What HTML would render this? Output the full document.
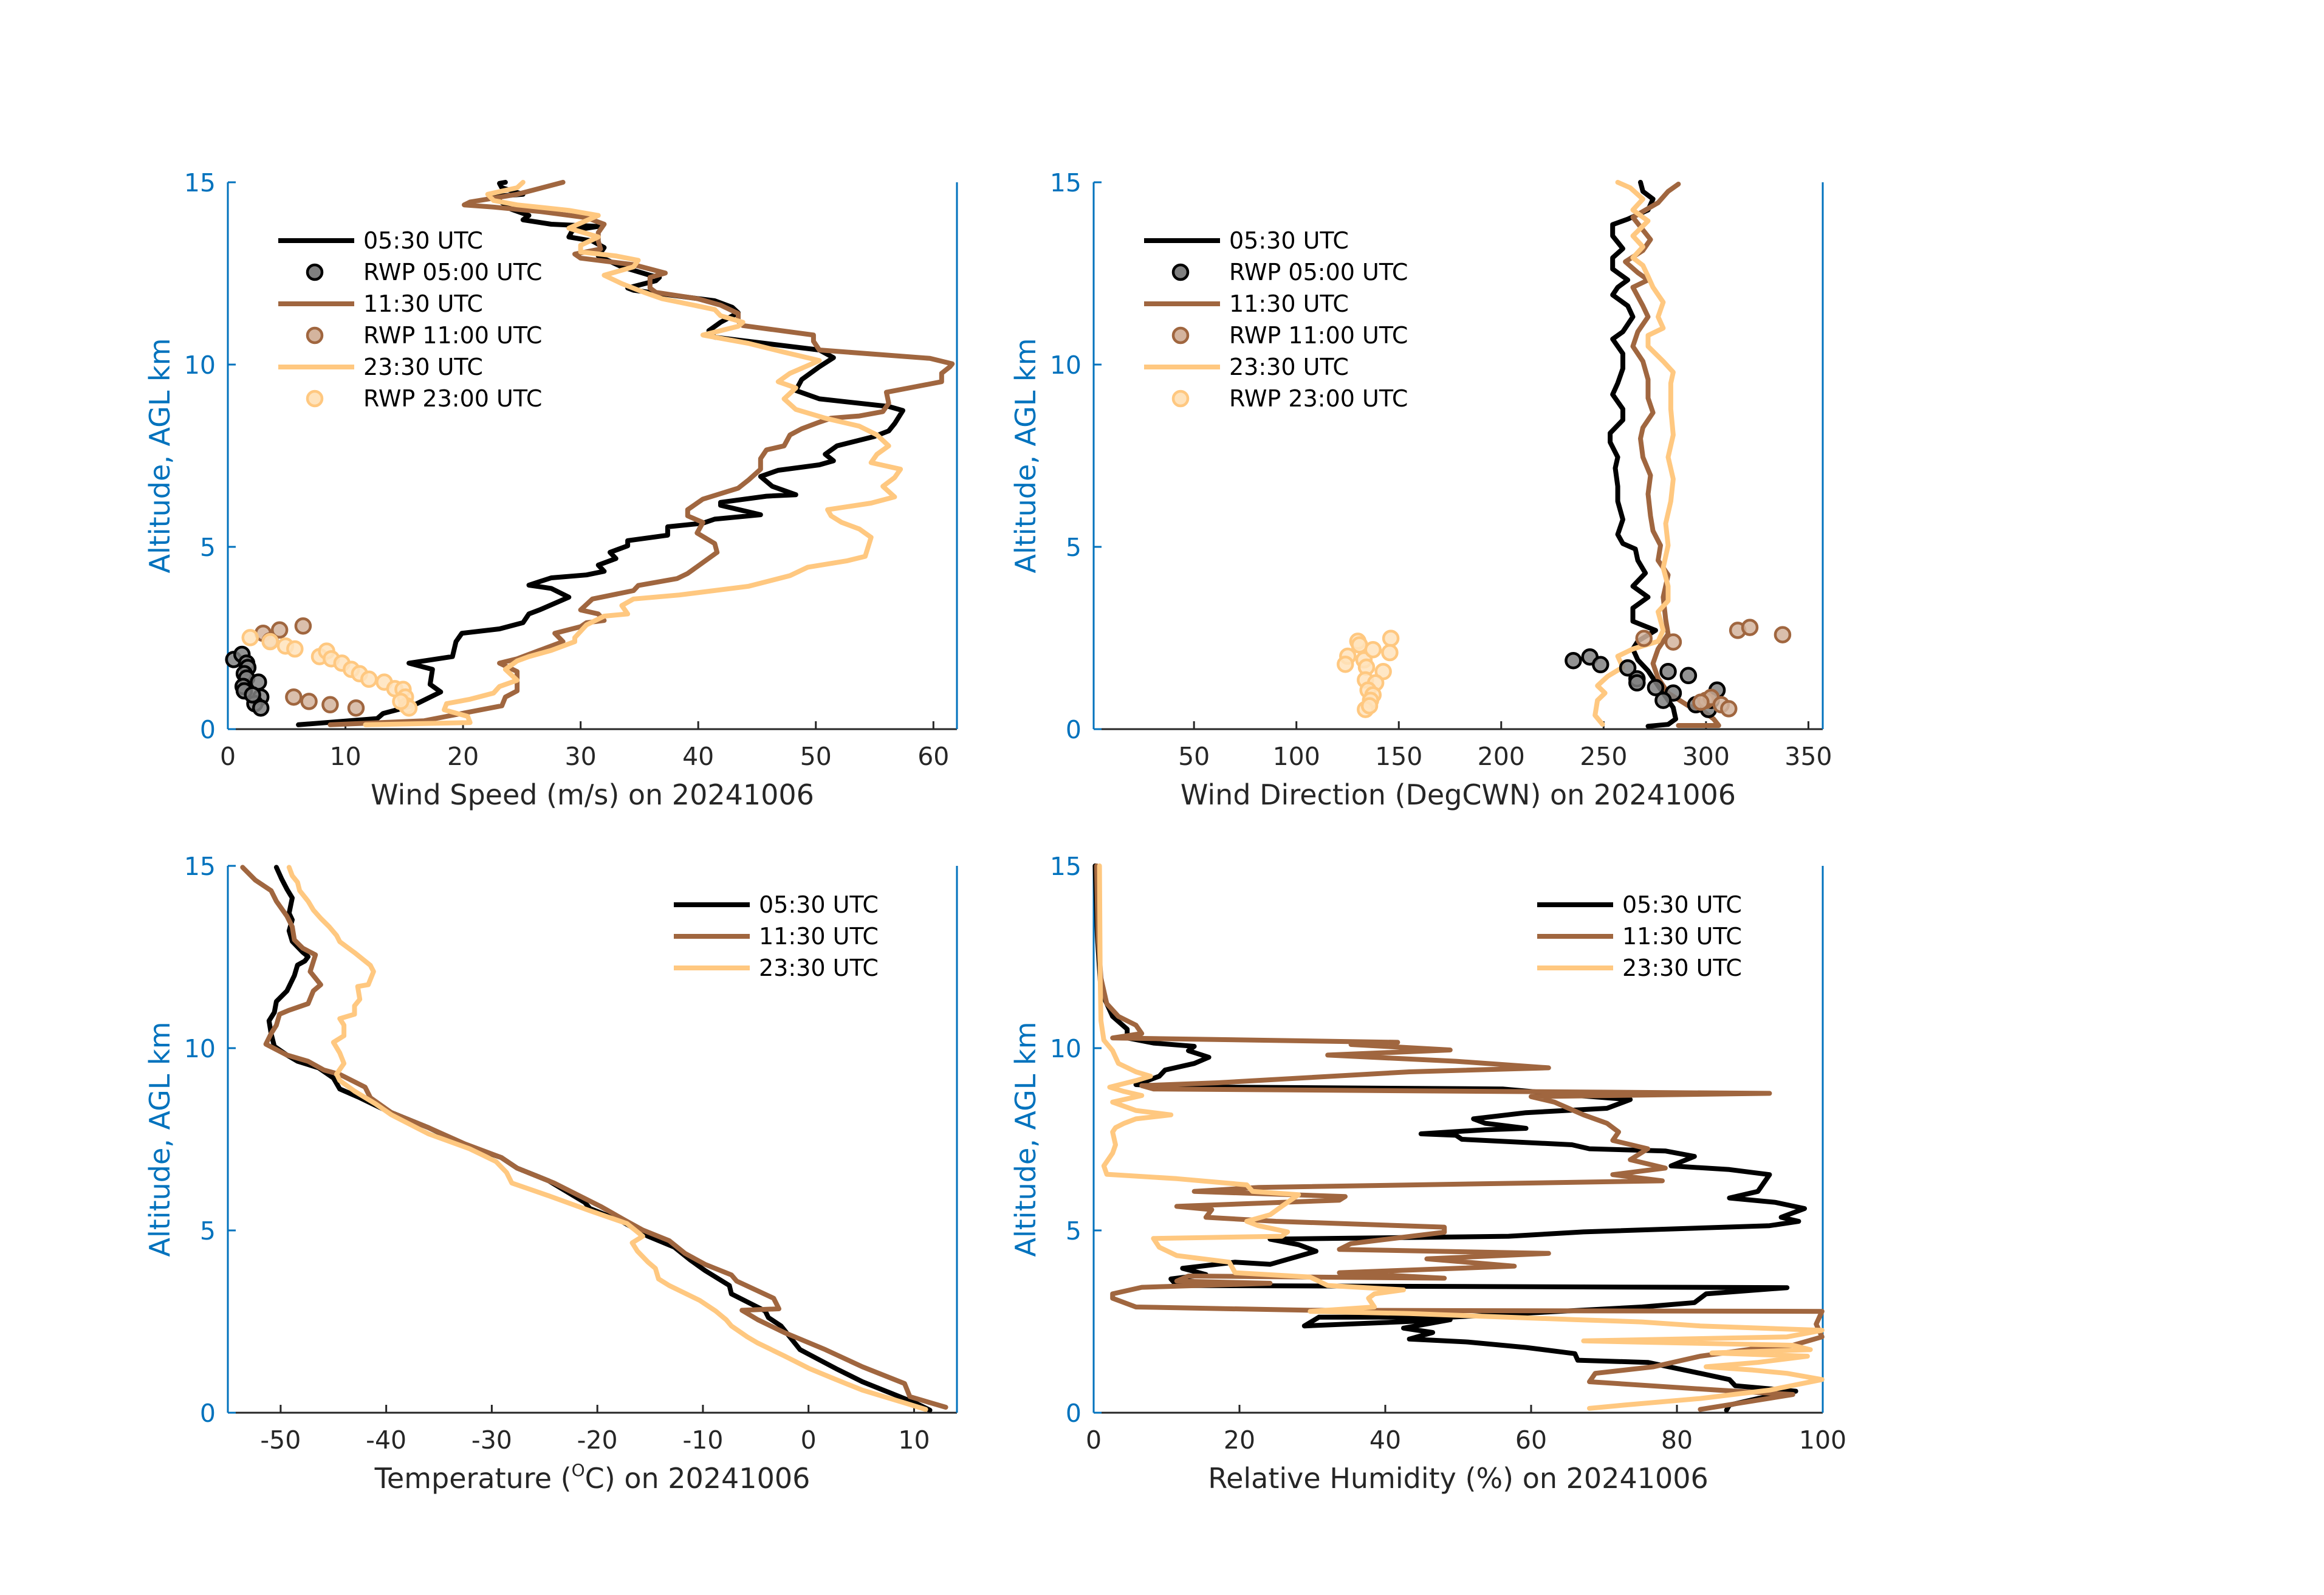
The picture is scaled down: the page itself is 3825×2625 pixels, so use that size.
<!DOCTYPE html>
<html><head><meta charset="utf-8"><title>Soundings 20241006</title>
<style>
html,body{margin:0;padding:0;background:#fff;}
svg{display:block;font-family:"DejaVu Sans","Liberation Sans",sans-serif;}
</style></head>
<body>
<svg id="fig" width="3825" height="2625" viewBox="0 0 3825 2625" xmlns="http://www.w3.org/2000/svg">
<rect width="3825" height="2625" fill="#fff"/>
</svg>
<script>
// ---------- Data (altitude km, values) ----------
// Wind speed (m/s)
const ws0530Alt=[0.12,0.29,0.43,0.64,1.02,1.23,1.64,1.81,1.99,2.40,2.63,2.75,2.92,3.16,3.27,3.62,3.86,3.95,4.15,4.23,4.33,4.50,4.68,4.85,5.03,5.17,5.32,5.55,5.65,5.76,5.88,6.14,6.22,6.39,6.43,6.66,6.93,7.10,7.25,7.36,7.54,7.77,8.03,8.18,8.38,8.74,8.85,9.06,9.29,9.59,9.94,10.19,10.40,10.75,10.93,11.16,11.42,11.57,11.75,12.04,12.10,12.30,12.39,12.45,12.68,12.98,13.21,13.39,13.50,13.68,13.79,13.85,13.97,14.09,14.26,14.61,14.67,14.85,14.97,15.0];
const ws0530Val=[6.0,12.7,13.2,15.7,18.1,17.2,17.4,15.4,19.1,19.4,19.9,23.1,25.1,25.6,26.5,29.0,27.5,25.6,27.5,30.5,32.0,31.5,33.0,32.5,34.0,34.0,37.4,37.4,40.4,41.4,45.3,41.9,41.9,45.8,48.3,46.3,45.3,46.8,50.3,51.5,50.8,51.8,55.0,56.2,56.7,57.4,56.2,50.3,48.3,48.8,50.3,51.5,50.3,41.4,40.9,41.9,43.4,42.9,41.4,34.5,34.0,36.4,36.7,35.9,33.5,31.5,32.0,31.0,29.0,29.3,31.5,27.5,25.1,25.6,24.1,22.6,25.1,23.3,23.1,23.6];
const ws1130Alt=[0.12,0.23,0.35,0.64,0.88,1.05,1.58,1.81,1.93,2.16,2.40,2.63,2.81,2.92,2.98,3.16,3.27,3.57,3.80,3.94,4.13,4.27,4.85,5.09,5.38,5.67,5.85,6.02,6.31,6.61,6.84,7.13,7.42,7.66,7.77,8.07,8.24,8.42,8.53,8.59,8.71,8.94,9.24,9.53,9.76,9.94,10.02,10.17,10.40,10.64,10.81,11.07,11.19,11.40,11.63,11.81,11.98,12.10,12.39,12.51,12.74,12.92,13.03,13.17,13.39,13.62,13.85,14.03,14.20,14.32,14.38,14.46,14.67,15.0];
const ws1130Val=[8.7,16.7,18.6,23.3,23.6,24.6,24.6,23.1,24.6,26.5,28.5,27.8,30.0,30.5,32.0,31.5,30.0,31.0,34.5,34.9,38.2,39.1,41.6,41.4,39.9,40.4,39.1,39.1,40.4,43.4,44.3,45.3,45.3,45.8,47.3,47.8,48.8,50.3,51.3,53.7,55.7,56.2,56.0,60.7,60.7,61.4,61.6,59.7,50.3,49.8,49.8,43.8,43.4,43.4,41.9,39.9,36.4,35.9,35.9,37.2,34.5,30.0,29.5,31.7,31.5,31.5,32.0,30.5,26.5,22.6,20.1,20.6,24.6,28.5];
const ws2330Alt=[0.12,0.18,0.35,0.53,0.70,0.82,0.99,1.17,1.34,1.64,1.87,1.99,2.16,2.40,2.51,2.86,3.10,3.16,3.39,3.57,3.68,3.92,4.21,4.44,4.62,4.74,5.26,5.49,5.67,5.85,6.02,6.20,6.37,6.66,6.90,7.13,7.31,7.54,7.77,8.07,8.31,8.53,8.77,9.06,9.36,9.53,9.76,10.11,10.34,10.58,10.81,11.05,11.16,11.34,11.51,11.81,11.98,12.22,12.45,12.68,12.86,12.98,13.09,13.27,13.50,13.74,14.09,14.23,14.38,14.50,14.67,14.85,15.0];
const ws2330Val=[11.7,20.6,20.4,18.4,18.6,20.6,22.6,23.1,24.6,23.6,24.6,25.6,27.5,29.5,29.5,30.5,32.0,34.0,33.5,34.5,38.4,44.3,47.8,49.3,52.7,54.2,54.7,53.7,52.2,51.3,51.0,54.7,56.7,55.7,56.7,57.2,54.7,55.2,56.2,55.2,53.7,50.8,48.3,47.3,48.3,46.8,47.8,50.3,47.3,44.3,40.4,43.4,43.8,41.9,41.4,36.9,35.4,33.5,32.0,34.5,34.9,33.0,30.0,30.0,31.5,29.0,31.5,29.0,24.6,22.6,22.1,24.6,25.1];
// RWP wind speed
const rwpWs0500Alt=[1.91,2.05,1.81,1.69,1.52,1.40,1.17,1.05,1.29,0.88,0.70,0.58,0.94];
const rwpWs0500Val=[0.5,1.2,1.6,1.7,1.4,1.6,1.3,1.4,2.6,2.8,2.3,2.8,2.1];
const rwpWs1100Alt=[2.63,2.72,2.83,2.42,0.88,0.76,0.67,0.58];
const rwpWs1100Val=[3.0,4.4,6.4,3.6,5.6,6.9,8.7,10.9];
const rwpWs2300Alt=[2.51,2.40,2.28,2.20,1.99,2.14,1.93,1.81,1.64,1.52,1.37,1.29,1.11,1.09,0.88,0.64,0.58,0.76];
const rwpWs2300Val=[1.9,3.6,4.9,5.7,7.8,8.4,8.8,9.7,10.5,11.2,12.0,13.3,14.2,14.9,15.1,15.2,15.4,14.7];
// Wind direction (deg)
const wd0530Alt=[0.08,0.13,0.28,0.59,0.89,1.19,1.60,1.90,2.20,2.41,2.71,2.96,3.32,3.62,3.92,4.28,4.63,4.94,5.09,5.34,5.75,6.25,6.66,7.16,7.46,7.87,8.12,8.48,8.78,9.18,9.49,9.89,10.30,10.70,10.90,11.31,11.61,11.91,12.12,12.32,12.62,12.93,13.18,13.53,13.84,13.99,14.24,14.54,14.75,15.0];
const wd0530Val=[271.7,281.5,285.2,284,280.3,276.6,271.7,266.7,264.3,266.7,275.4,264.3,264.3,271.7,264.3,270.4,266.7,265.5,259.4,256.9,259.4,256.9,256.9,255.7,256.9,253.2,253.2,259.4,259.4,254.4,256.9,259.4,259.4,254.4,259.4,264.3,261.8,254.4,256.9,261.8,254.4,254.4,259.4,254.4,254.4,261.8,271.7,274.1,269.2,268];
const wd1130Alt=[0.10,0.10,0.28,0.49,0.64,0.99,1.40,1.80,2.20,2.61,3.01,3.62,4.23,4.63,5.04,5.44,5.85,6.45,6.96,7.46,7.97,8.27,8.68,9.08,9.59,10.09,10.50,10.90,11.31,11.61,12.12,12.32,12.52,12.82,13.13,13.43,14.04,14.44,14.75,14.95];
const wd1130Val=[286.5,306.2,303.7,298.8,291.4,281.5,276.6,274.1,276.6,281.5,280.3,279.1,281.5,276.6,277.8,274.1,272.9,271.7,272.9,269.2,268.0,269.2,274.1,271.7,271.7,269.2,264.3,266.7,271.7,269.2,264.3,271.7,266.7,260.6,269.2,272.9,264.3,276.6,281.5,286.5];
const wd2330Alt=[0.13,0.38,0.79,0.99,1.19,1.45,1.70,2.00,2.20,2.41,2.71,3.22,3.52,3.92,4.43,5.04,5.64,6.25,6.86,7.46,8.07,8.78,9.49,9.79,10.09,10.50,10.80,11.00,11.31,11.71,12.12,12.42,12.72,12.93,13.23,13.53,13.94,14.24,14.54,14.85,15.0];
const wd2330Val=[249.5,245.8,247,250.7,247,252,259.4,256.9,264.3,276.6,279.1,276.6,281.5,281.5,279.1,281.5,280.3,282.8,284,281.5,284,282.8,282.8,284,279.1,271.7,271.7,279.1,276.6,279.1,274.1,271.7,269.2,264.3,269.2,264.3,271.7,264.3,269.2,263,256.9];
// RWP wind direction
const rwpWd0500Alt=[1.88,1.98,1.77,1.68,1.38,1.27,1.14,1.58,1.47,0.99,0.79,0.67,0.54,1.07,0.79];
const rwpWd0500Val=[235.2,243.3,248.5,261.8,266.3,266.3,275.4,281.5,291.4,284,279.1,295,301.2,305.4,302.5];
const rwpWd1100Alt=[2.49,2.39,2.71,2.79,2.59,0.79,0.87,0.67,0.56,0.74];
const rwpWd1100Val=[269.7,284,315.5,321.4,337.4,300,302.5,307.4,311.1,297.5];
const rwpWd2300Alt=[2.41,2.31,2.00,1.78,1.90,2.18,2.49,2.10,1.70,1.58,1.35,1.27,1.07,0.94,0.79,0.54,0.64];
const rwpWd2300Val=[130,130.8,125.1,123.9,133,137.4,146.1,145.6,134.2,142.4,133.7,138.7,135,137.4,136.2,133.7,135.7];
// Temperature (deg C)
const t0530Alt=[0.07,0.27,0.56,0.85,1.21,1.44,1.73,1.91,2.38,2.61,2.79,3.26,3.49,3.90,4.19,4.54,4.84,5.25,5.60,5.77,6.36,6.71,7.00,7.35,7.82,8.29,8.64,8.88,9.18,9.46,9.64,9.81,10.05,10.40,10.75,10.98,11.28,11.57,11.99,12.28,12.39,12.51,12.63,12.93,13.22,13.52,13.70,14.12,14.36,14.64,14.96];
const t0530Val=[11.5,10.1,7.6,5.1,2.6,1.1,-0.8,-1.3,-2.6,-3.8,-4.1,-7.3,-7.5,-9.8,-11.2,-12.7,-15.2,-17.7,-20.7,-21.2,-24.6,-27.6,-29.1,-32.6,-36.0,-40.0,-42.5,-44.4,-45.0,-46.4,-48.4,-49.4,-50.6,-50.9,-51.1,-50.6,-50.4,-49.4,-48.7,-48.4,-47.7,-47.4,-47.9,-48.9,-49.2,-48.9,-49.2,-48.9,-49.4,-49.9,-50.4];
const t1130Alt=[0.15,0.44,0.80,1.26,1.73,2.08,2.20,2.55,2.81,2.85,3.14,3.61,3.78,4.07,4.37,4.72,5.01,5.25,5.66,5.95,6.30,6.71,7.00,7.38,7.82,8.23,8.64,8.93,9.28,9.40,9.64,9.81,10.11,10.40,10.63,10.93,11.04,11.22,11.57,11.74,12.10,12.56,12.74,12.97,13.33,13.62,14.03,14.32,14.61,14.96];
const t1130Val=[13.0,9.6,9.1,5.1,1.6,-1.3,-2.3,-4.8,-6.3,-2.8,-3.3,-6.8,-7.3,-9.8,-11.7,-13.2,-15.7,-17.2,-19.7,-21.7,-24.1,-27.6,-29.1,-32.6,-36.0,-39.5,-41.5,-42.0,-44.4,-45.9,-47.4,-49.4,-51.4,-50.9,-50.4,-50.1,-49.2,-47.4,-46.9,-46.2,-47.2,-46.7,-47.9,-48.7,-48.9,-49.4,-50.4,-50.9,-52.4,-53.6];
const t2330Alt=[0.09,0.27,0.62,0.91,1.21,1.56,1.91,2.08,2.38,2.55,2.79,3.08,3.49,3.67,3.96,4.13,4.43,4.66,4.84,5.19,5.54,5.95,6.30,6.59,6.89,7.24,7.65,8.17,8.47,8.82,9.11,9.29,9.58,9.87,10.16,10.34,10.63,10.81,10.93,11.16,11.34,11.69,11.74,12.10,12.27,12.62,12.92,13.09,13.33,13.56,13.79,14.03,14.32,14.55,14.73,14.96];
const t2330Val=[11.1,9.1,5.1,2.6,0.1,-2.3,-4.8,-5.8,-7.3,-7.8,-8.8,-10.3,-13.2,-14.2,-14.5,-15.2,-16.2,-16.7,-15.7,-17.2,-20.7,-24.6,-28.1,-28.6,-29.6,-32.1,-36.0,-39.5,-41.0,-43.0,-44.4,-44.7,-44.0,-44.4,-45.0,-44.0,-44.0,-44.4,-43.0,-43.0,-42.5,-42.7,-41.7,-41.2,-41.5,-43.0,-44.4,-44.7,-45.4,-46.2,-46.9,-47.4,-48.2,-48.4,-48.9,-49.2];
// Relative humidity (%)
const rh0530Alt=[0.07,0.21,0.39,0.59,0.74,0.91,1.08,1.38,1.44,1.62,1.79,1.94,2.02,2.20,2.32,2.55,2.38,2.62,2.62,2.90,3.02,3.26,3.43,3.49,3.67,3.79,3.96,4.13,4.07,4.43,4.61,4.76,4.84,4.96,5.13,5.25,5.36,5.60,5.77,5.89,6.07,6.53,6.67,6.77,7.03,7.18,7.24,7.35,7.50,7.61,7.65,7.76,7.80,7.94,8.06,8.23,8.35,8.59,8.70,8.88,8.94,9.00,9.11,9.23,9.40,9.58,9.75,9.93,10.05,10.14,10.28,10.52,10.87,11.57,13.09,15.0];
const rh0530Val=[86.8,87.2,91.1,96.3,88.0,87.2,83.2,76.0,66.4,66.0,59.3,51.3,43.3,46.5,42.5,48.9,28.9,30.9,48.9,75.2,82.4,84.0,95.1,11.4,10.6,15.4,12.2,19.4,24.2,30.5,28.1,24.2,56.9,67.2,92.7,96.7,94.3,97.5,93.5,87.2,91.1,92.7,87.2,79.2,82.4,78.4,68.0,65.6,50.5,49.7,44.9,53.7,59.3,53.7,52.1,59.3,70.4,73.6,66.4,56.1,11.4,5.8,7.4,9.0,9.8,13.8,15.8,13.0,13.8,8.2,4.6,4.6,2.6,1.0,0.5,0.2];
const rh1130Alt=[0.09,0.50,0.62,0.85,1.08,1.26,1.55,1.79,1.85,2.08,2.43,2.78,2.81,2.90,3.14,3.26,3.44,3.55,3.61,3.75,3.69,3.84,4.02,4.22,4.37,4.48,4.64,4.95,5.09,5.25,5.36,5.57,5.66,5.83,5.93,6.07,6.18,6.36,6.53,6.71,6.94,7.24,7.47,7.70,7.94,8.17,8.52,8.67,8.76,8.88,8.97,9.05,9.35,9.46,9.64,9.81,9.95,10.10,10.16,10.28,10.40,10.63,10.87,11.22,11.92,13.09,15.0];
const rh1130Val=[83.2,95.9,85.6,68.0,68.8,76.8,83.2,91.9,95.9,99.9,99.1,99.9,29.7,5.8,2.6,2.6,6.6,24.2,11.4,13.0,48.1,33.7,57.7,45.7,62.4,33.7,35.3,48.1,48.1,25.0,15.4,16.2,11.4,33.7,34.5,13.8,22.6,78.0,71.2,78.4,73.6,76.0,71.2,72.0,70.4,67.2,63.2,60.0,92.7,8.2,6.6,17.0,43.3,62.4,49.7,32.1,48.9,35.3,41.7,2.6,6.6,5.8,3.4,1.8,1.0,0.6,0.4];
const rh2330Alt=[0.12,0.21,0.39,0.62,0.91,1.08,1.17,1.26,1.38,1.55,1.64,1.73,1.85,1.97,2.08,2.26,2.38,2.49,2.55,2.72,2.78,2.90,3.14,3.26,3.37,3.49,3.72,3.84,4.13,4.31,4.54,4.78,4.84,4.96,5.13,5.25,5.43,5.66,5.98,6.07,6.25,6.42,6.54,6.77,7.12,7.35,7.70,7.82,7.94,8.06,8.17,8.29,8.52,8.70,8.81,8.93,9.11,9.23,9.35,9.58,9.93,10.22,10.75,11.92,15.0];
const rh2330Val=[68.0,72.8,83.2,92.7,99.9,95.1,90.4,84.0,91.1,97.9,84.8,98.3,95.9,67.2,95.1,99.9,83.2,75.2,66.4,43.3,29.7,38.5,37.7,38.5,42.5,32.1,29.7,19.4,18.6,11.4,9.0,8.2,25.8,26.6,22.6,21.0,24.2,25.8,28.1,21.8,21.0,11.4,1.8,1.4,2.6,3.0,2.6,3.0,4.2,5.8,10.6,5.8,2.6,6.6,4.2,2.2,5.8,7.8,5.8,3.4,2.6,1.4,1.0,0.9,0.8];
// Tick labels
const altTicks=[0,5,10,15];
const wsTicks=[0,10,20,30,40,50,60];
const wdTicks=[50,100,150,200,250,300,350];
const tTicks=[-50,-40,-30,-20,-10,0,10];
const rhTicks=[0,20,40,60,80,100];

// ---------- Rendering ----------
const NS='http://www.w3.org/2000/svg';
const svg=document.getElementById('fig');
const C0='#000000', C1='#A0663F', C2='#FFC880';
const F0='#808080', F1='#D4B49E', F2='#FFE3BC';
function mk(tag,attrs,parent){const e=document.createElementNS(NS,tag);for(const k in attrs)e.setAttribute(k,attrs[k]);(parent||svg).appendChild(e);return e;}

function makePanel(name,x0,x1,y0,y1,xmin,xmax,xticks,xlabelParts){
  const g=mk('g',{});
  
  
  const sx=v=>x0+(v-xmin)/(xmax-xmin)*(x1-x0);
  const sy=a=>y1-(a/15)*(y1-y0);
  const bax=mk('line',{x1:x0,y1:y1,x2:x1,y2:y1,stroke:'#262626','stroke-width':3},g);
  
  
  xticks.forEach(t=>{
    const tk=mk('line',{x1:sx(t),y1:y1,x2:sx(t),y2:y1-13,stroke:'#262626','stroke-width':3},g);
    
    
    const tl=mk('text',{x:sx(t),y:y1+59,'text-anchor':'middle','font-size':41,fill:'#262626'},g);
    tl.textContent=String(t);
    
    
  });
  const lax=mk('line',{x1:x0,y1:y0,x2:x0,y2:y1,stroke:'#0072BD','stroke-width':3},g);
  
  
  const rax=mk('line',{x1:x1,y1:y0,x2:x1,y2:y1,stroke:'#0072BD','stroke-width':3},g);
  
  
  altTicks.forEach(t=>{
    const tk=mk('line',{x1:x0,y1:sy(t),x2:x0+13,y2:sy(t),stroke:'#0072BD','stroke-width':3},g);
    
    
    const tl=mk('text',{x:x0-20,y:sy(t)+15,'text-anchor':'end','font-size':41,fill:'#0072BD'},g);
    tl.textContent=String(t);
    
    
  });
  const yl=mk('text',{x:0,y:0,'text-anchor':'middle','font-size':46,fill:'#0072BD',transform:`translate(${x0-96},${(y0+y1)/2}) rotate(-90)`},g);
  yl.textContent='Altitude, AGL km';
  
  
  const xl=mk('text',{x:(x0+x1)/2,y:y1+124,'text-anchor':'middle','font-size':46,fill:'#262626'},g);
  
  
  xlabelParts(xl);
  return {g,sx,sy};
}
function line(p,alts,vals,color,name){
  const pts=alts.map((a,i)=>p.sx(vals[i]).toFixed(1)+','+p.sy(a).toFixed(1)).join(' ');
  const pl=mk('polyline',{points:pts,fill:'none',stroke:color,'stroke-width':8,'stroke-linejoin':'round','stroke-linecap':'round'},p.g);
  
  
}
function scatter(p,alts,vals,fill,edge,name){
  const gg=mk('g',{},p.g);
  
  
  alts.forEach((a,i)=>{
    const c=mk('circle',{cx:p.sx(vals[i]),cy:p.sy(a),r:12,fill:fill,'fill-opacity':0.85,stroke:edge,'stroke-width':4.5},gg);
    
    
  });
}
function legend(p,x,y,entries){
  const lg=mk('g',{},p.g);
  
  
  entries.forEach((e,i)=>{
    const yy=y+i*52;
    const eg=mk('g',{},lg);
    
    
    if(e.type==='line'){
      mk('line',{x1:x,y1:yy,x2:x+125,y2:yy,stroke:e.color,'stroke-width':8},eg);
    }else{
      mk('circle',{cx:x+60,cy:yy,r:12,fill:e.fill,stroke:e.color,'stroke-width':4.5},eg);
    }
    const t=mk('text',{x:x+140,y:yy+13,'font-size':38,fill:'#000'},eg);
    t.textContent=e.label;
  });
}
const simple=s=>el=>{el.textContent=s;};

const p1=makePanel('wind-speed-panel',375,1575,300,1200,0,62,wsTicks,simple('Wind Speed (m/s) on 20241006'));
line(p1,ws0530Alt,ws0530Val,C0,'line-0530');
scatter(p1,rwpWs0500Alt,rwpWs0500Val,F0,C0,'rwp-0500');
line(p1,ws1130Alt,ws1130Val,C1,'line-1130');
scatter(p1,rwpWs1100Alt,rwpWs1100Val,F1,C1,'rwp-1100');
line(p1,ws2330Alt,ws2330Val,C2,'line-2330');
scatter(p1,rwpWs2300Alt,rwpWs2300Val,F2,C2,'rwp-2300');
const fullLeg=[
 {type:'line',color:C0,label:'05:30 UTC'},
 {type:'pt',color:C0,fill:F0,label:'RWP 05:00 UTC'},
 {type:'line',color:C1,label:'11:30 UTC'},
 {type:'pt',color:C1,fill:F1,label:'RWP 11:00 UTC'},
 {type:'line',color:C2,label:'23:30 UTC'},
 {type:'pt',color:C2,fill:F2,label:'RWP 23:00 UTC'}];
legend(p1,458,396,fullLeg);

const p2=makePanel('wind-direction-panel',1800,3000,300,1200,1,357,wdTicks,simple('Wind Direction (DegCWN) on 20241006'));
line(p2,wd0530Alt,wd0530Val,C0,'line-0530');
line(p2,wd1130Alt,wd1130Val,C1,'line-1130');
line(p2,wd2330Alt,wd2330Val,C2,'line-2330');
scatter(p2,rwpWd0500Alt,rwpWd0500Val,F0,C0,'rwp-0500');
scatter(p2,rwpWd1100Alt,rwpWd1100Val,F1,C1,'rwp-1100');
scatter(p2,rwpWd2300Alt,rwpWd2300Val,F2,C2,'rwp-2300');
legend(p2,1883,396,fullLeg);

const p3=makePanel('temperature-panel',375,1575,1425,2325,-55,14.06,tTicks,el=>{
  const a=document.createElementNS(NS,'tspan');a.textContent='Temperature (';el.appendChild(a);
  const b=document.createElementNS(NS,'tspan');b.textContent='O';b.setAttribute('font-size','28');b.setAttribute('dy','-20');el.appendChild(b);
  const c=document.createElementNS(NS,'tspan');c.textContent='C) on 20241006';c.setAttribute('dy','20');el.appendChild(c);
});
line(p3,t0530Alt,t0530Val,C0,'line-0530');
line(p3,t1130Alt,t1130Val,C1,'line-1130');
line(p3,t2330Alt,t2330Val,C2,'line-2330');
const shortLeg=[{type:'line',color:C0,label:'05:30 UTC'},{type:'line',color:C1,label:'11:30 UTC'},{type:'line',color:C2,label:'23:30 UTC'}];
legend(p3,1109,1489,shortLeg);

const p4=makePanel('humidity-panel',1800,3000,1425,2325,0,100,rhTicks,simple('Relative Humidity (%) on 20241006'));
line(p4,rh0530Alt,rh0530Val,C0,'line-0530');
line(p4,rh1130Alt,rh1130Val,C1,'line-1130');
line(p4,rh2330Alt,rh2330Val,C2,'line-2330');
legend(p4,2530,1489,shortLeg);
</script>
</body></html>
